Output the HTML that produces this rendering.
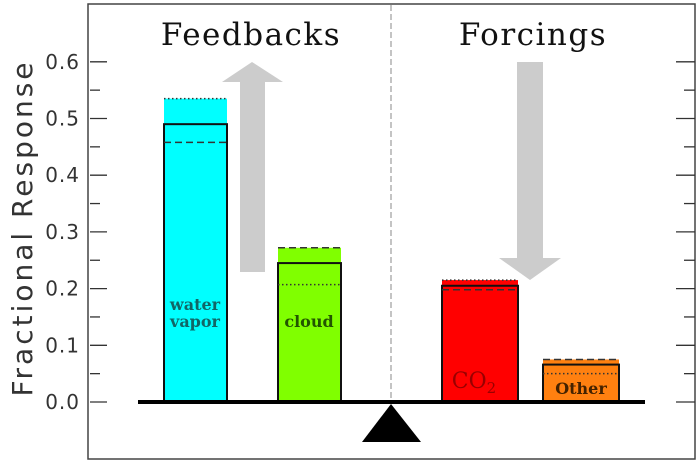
<!DOCTYPE html>
<html><head><meta charset="utf-8"><style>body{margin:0;background:#fff}svg{display:block}</style></head>
<body>
<svg id="chart" width="700" height="463" xmlns="http://www.w3.org/2000/svg"></svg>
<script>
const categories = ["water vapor","cloud","CO2","Other"];
const fillTops = [0.535,0.272,0.215,0.075];
const mainValues = [0.49,0.245,0.205,0.066];
const altValues = [0.458,0.207,0.198,0.05];
const topStyles = ["dotted","dashed","dotted","dashed"];
const altStyles = ["dashed","dotted","dashed","dotted"];
const yTicks = [0,0.1,0.2,0.3,0.4,0.5,0.6];
const yTickLabels = ["0.0","0.1","0.2","0.3","0.4","0.5","0.6"];

const svg = document.getElementById('chart');
const NS = 'http://www.w3.org/2000/svg';
const y = v => 402 - v * 567;
const barX = [164,278,442,543], barW = [63,63,76,76];
const colors = ["#00ffff","#80ff00","#ff0000","#ff8010"];
function mk(tag, attrs, parent){const e=document.createElementNS(NS,tag);for(const k in attrs)e.setAttribute(k,attrs[k]);(parent||svg).appendChild(e);return e;}
function dash(s){return s==="dotted"?"1.5,2.5":"7,4";}

let e;
e = mk('rect',{x:88,y:4,width:607,height:455,fill:'none',stroke:'#444','stroke-width':1.5});


for(let v=0; v<=0.6001; v+=0.05){
  const major = Math.round(v*100)%10===0;
  e = mk('line',{x1:90,x2:major?107:100,y1:y(v),y2:y(v),stroke:'#333','stroke-width':1.3});
  
  
  e = mk('line',{x1:695,x2:major?676:684,y1:y(v),y2:y(v),stroke:'#333','stroke-width':1.3});
  
  
}
yTicks.forEach((v,i)=>{
  e = mk('text',{x:80,y:y(v)+7,'text-anchor':'end','font-family':'DejaVu Sans, Liberation Sans, sans-serif','font-size':20,'letter-spacing':1,fill:'#333'});
  e.textContent = yTickLabels[i];
  
  
});
e = mk('text',{x:0,y:0,transform:'translate(32,228) rotate(-90)','text-anchor':'middle','font-family':'DejaVu Sans, Liberation Sans, sans-serif','font-size':28,'letter-spacing':3,fill:'#333'});
e.textContent='Fractional Response';


e = mk('line',{x1:391,x2:391,y1:5,y2:402,stroke:'#888','stroke-width':1,'stroke-dasharray':'6,3'});


[["Feedbacks",251],["Forcings",533]].forEach(t=>{
  e = mk('text',{x:t[1],y:45,'text-anchor':'middle','font-family':'DejaVu Serif, Liberation Serif, serif','font-size':31,'letter-spacing':1.5,fill:'#111'});
  e.textContent=t[0];
  
  
});
e = mk('polygon',{points:'240,272 265,272 265,82 283,82 252,62 222,82 240,82',fill:'#cccccc'});


e = mk('polygon',{points:'517,62 543,62 543,258 561,258 530,280 499,258 517,258',fill:'#cccccc'});


categories.forEach((c,i)=>{
  const x=barX[i], w=barW[i];
  e = mk('rect',{x:x,y:y(fillTops[i]),width:w,height:402-y(fillTops[i]),fill:colors[i]});
  
  
  e = mk('line',{x1:x,x2:x+w,y1:y(fillTops[i]),y2:y(fillTops[i]),stroke:'#333','stroke-width':1.5,'stroke-dasharray':dash(topStyles[i])});
  
  
  e = mk('rect',{x:x,y:y(mainValues[i]),width:w,height:402-y(mainValues[i]),fill:'none',stroke:'#111','stroke-width':2});
  
  
  e = mk('line',{x1:x,x2:x+w,y1:y(altValues[i]),y2:y(altValues[i]),stroke:'#333','stroke-width':1.5,'stroke-dasharray':dash(altStyles[i])});
  
  
});
function lab(txt,x,yy,fill,size,name){
  const t=mk('text',{x:x,y:yy,'text-anchor':'middle','font-family':'DejaVu Serif, Liberation Serif, serif','font-size':size,'font-weight':'bold',fill:fill});
  t.textContent=txt;
  
  
  return t;
}
lab('water',195,310,'#116666',16,'label-water');
lab('vapor',195,327,'#116666',16,'label-vapor');
lab('cloud',309,327,'#225500',16,'label-cloud');
e = lab('CO',474,388,'#990000',22,'label-co2');
e.setAttribute('font-weight','normal');
const sub=mk('tspan',{'font-size':15,dy:5},e); sub.textContent='2';
lab('Other',581,394,'#442200',16,'label-other');
e = mk('rect',{x:138,y:400,width:507,height:4,fill:'#000'});


e = mk('polygon',{points:'391,404 421,442 362,442',fill:'#000'});


</script>
</body></html>
